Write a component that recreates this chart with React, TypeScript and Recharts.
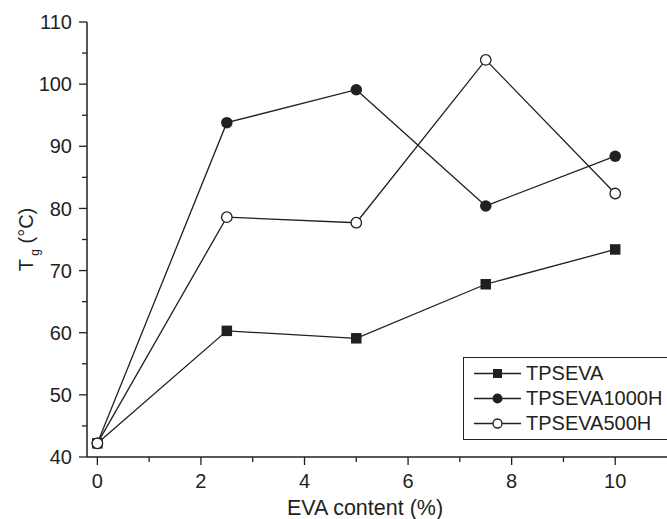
import React from 'react'
import { LineChart, Line, XAxis, YAxis, Label } from 'recharts'

const INK = '#231f20'
const FONT = '"Liberation Sans", Arial, sans-serif'

const evaContent = [0, 2.5, 5, 7.5, 10]
const tpseva = [42.2, 60.3, 59.1, 67.8, 73.4]
const tpseva1000h = [42.2, 93.8, 99.1, 80.4, 88.4]
const tpseva500h = [42.2, 78.6, 77.7, 103.9, 82.4]

const xTicks = [0, 1, 2, 3, 4, 5, 6, 7, 8, 9, 10]
const yTicks = [40, 45, 50, 55, 60, 65, 70, 75, 80, 85, 90, 95, 100, 105, 110]

const data = evaContent.map((x, i) => ({
  x,
  tpseva: tpseva[i],
  tpseva1000h: tpseva1000h[i],
  tpseva500h: tpseva500h[i],
}))

const series = [
  { key: 'tpseva', name: 'TPSEVA', marker: 'square' },
  { key: 'tpseva1000h', name: 'TPSEVA1000H', marker: 'filled' },
  { key: 'tpseva500h', name: 'TPSEVA500H', marker: 'open' },
]

function Marker({ kind, cx, cy, size }: { kind: string; cx: number; cy: number; size: number }) {
  if (kind === 'square') {
    return <rect x={cx - size / 2} y={cy - size / 2} width={size} height={size} fill={INK} />
  }
  if (kind === 'filled') {
    return <circle cx={cx} cy={cy} r={size / 2 + 0.5} fill={INK} />
  }
  return <circle cx={cx} cy={cy} r={size / 2} fill="#fff" stroke={INK} strokeWidth={1.3} />
}

function XTick(props: any) {
  const { x, y, payload } = props
  const major = payload.value % 2 === 0
  return (
    <g>
      <line x1={x} x2={x} y1={y} y2={y + (major ? 8 : 5)} stroke={INK} strokeWidth={1.3} />
      {major && (
        <text x={x} y={y + 31} textAnchor="middle" fill={INK} fontSize={20} fontFamily={FONT}>
          {payload.value}
        </text>
      )}
    </g>
  )
}

function YTick(props: any) {
  const { x, y, payload } = props
  const major = payload.value % 10 === 0
  return (
    <g>
      <line x1={x} x2={x - (major ? 8 : 5)} y1={y} y2={y} stroke={INK} strokeWidth={1.3} />
      {major && (
        <text x={x - 15} y={y} dy="0.36em" textAnchor="end" fill={INK} fontSize={20} fontFamily={FONT}>
          {payload.value}
        </text>
      )}
    </g>
  )
}

function YTitle(props: any) {
  const vb = props.viewBox
  const x = vb.x + 33
  const y = vb.y + vb.height / 2
  return (
    <text
      x={x}
      y={y}
      transform={`rotate(-90, ${x}, ${y})`}
      textAnchor="middle"
      fill={INK}
      fontSize={20}
      fontFamily={FONT}
    >
      T
      <tspan fontSize={12} dy={6}> g</tspan>
      <tspan dy={-6}> (°C)</tspan>
    </text>
  )
}

function XTitle(props: any) {
  const vb = props.viewBox
  return (
    <text x={vb.x + 278} y={vb.y + 58} textAnchor="middle" fill={INK} fontSize={21.5} fontFamily={FONT}>
      EVA content (%)
    </text>
  )
}

function LegendBox() {
  return (
    <div
      style={{
        position: 'absolute',
        left: 463,
        top: 357,
        border: `1.5px solid ${INK}`,
        width: 230,
        height: 83,
        boxSizing: 'border-box',
        paddingTop: 3,
        fontFamily: FONT,
        fontSize: 20,
        color: INK,
        background: '#fff',
      }}
    >
      {series.map((s) => (
        <div key={s.key} style={{ display: 'flex', alignItems: 'center', height: 25 }}>
          <svg width={62} height={25} style={{ display: 'block', flexShrink: 0 }}>
            <line x1={10} x2={57} y1={12.5} y2={12.5} stroke={INK} strokeWidth={1.3} />
            <Marker kind={s.marker} cx={33.5} cy={12.5} size={9} />
          </svg>
          <span style={{ lineHeight: '25px', whiteSpace: 'nowrap' }}>{s.name}</span>
        </div>
      ))}
    </div>
  )
}

export default function App() {
  return (
    <div
      style={{
        position: 'absolute',
        left: 0,
        top: 0,
        width: 667,
        height: 519,
        background: '#fff',
        overflow: 'hidden',
      }}
    >
      <LineChart
        width={667}
        height={519}
        data={data}
        margin={{ top: 22, right: 0, bottom: 0, left: 0 }}
      >
        <XAxis
          dataKey="x"
          type="number"
          domain={[-0.2, 11]}
          ticks={xTicks}
          allowDataOverflow
          height={62}
          tickSize={0}
          tickMargin={0}
          tickLine={false}
          tick={<XTick />}
          axisLine={{ stroke: INK, strokeWidth: 1.5 }}
          interval={0}
        >
          <Label content={<XTitle />} />
        </XAxis>
        <YAxis
          type="number"
          domain={[40, 110]}
          ticks={yTicks}
          allowDataOverflow
          width={87}
          tickSize={0}
          tickMargin={0}
          tickLine={false}
          tick={<YTick />}
          axisLine={{ stroke: INK, strokeWidth: 1.5 }}
          interval={0}
        >
          <Label content={<YTitle />} />
        </YAxis>
        {series.map((s) => (
          <Line
            key={s.key}
            dataKey={s.key}
            name={s.name}
            type="linear"
            stroke={INK}
            strokeWidth={1.3}
            isAnimationActive={false}
            dot={(p: any) => (
              <Marker key={`${s.key}-${p.index}`} kind={s.marker} cx={p.cx} cy={p.cy} size={10.5} />
            )}
            activeDot={false}
          />
        ))}
      </LineChart>
      <LegendBox />
    </div>
  )
}
